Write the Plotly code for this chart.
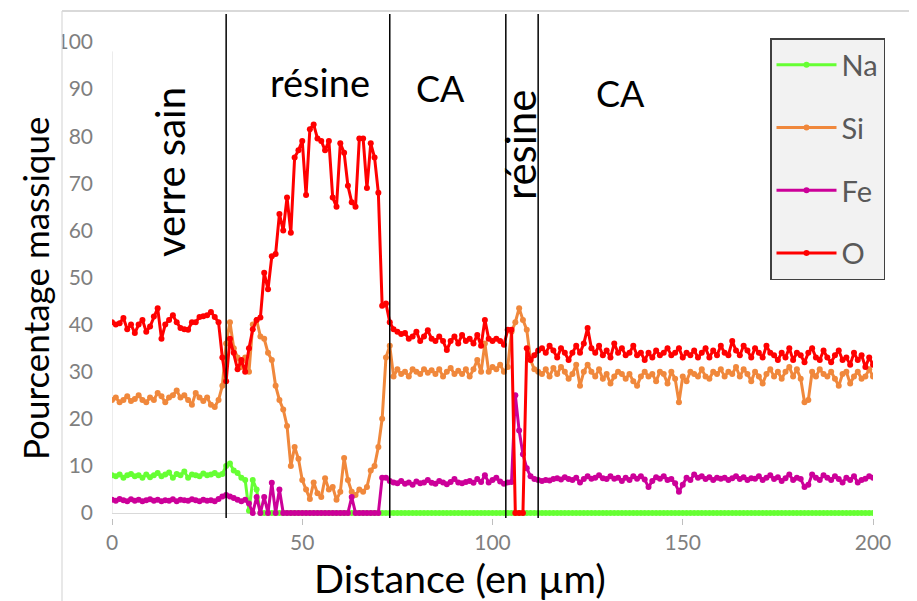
import plotly.graph_objects as go

# ---------------- data (distance in µm, mass percentage) ----------------
distance = list(range(0, 201))

Na = ([8, 7.8, 8.2, 7.5, 8, 8.3, 7.8, 8, 7.5, 8.2,
       7.6, 8, 8.5, 7.8, 8.2, 8.6, 7.5, 8.3, 8, 8.8,
       7.5, 8.2, 8, 7.8, 8.4, 8, 8.2, 8.5, 8, 8.3,
       10, 10.5, 9, 8.5, 7.5, 7, 0.5, 7, 5, 0]
      + [0] * 161)

Si = [24, 24.5, 23.5, 24, 24.8, 23.8, 24.2, 25, 24, 23.5,
      24.5, 24, 25.5, 24.8, 23.5, 24.5, 25, 26, 24.5, 25,
      24, 23, 25.5, 24.5, 23.8, 24.5, 23, 22.5, 24, 27,
      36, 40.5, 35, 33, 31, 33, 30, 40, 41, 37.5,
      37, 34, 32.5, 27, 24, 22, 18.5, 10, 14, 11.5,
      7, 5, 3, 6.5, 4.2, 3.4, 7.4, 5, 5.5, 2.8,
      4.5, 11.7, 7, 4.5, 3.8, 5, 4.5, 5.5, 9, 10,
      14, 20, 33, 35.5, 29, 30.5, 29.5, 30, 29, 30.5,
      30, 29.5, 30.5, 29.8, 30.3, 29.5, 30.5, 29, 30, 30.8,
      29.5, 30.2, 29.5, 30.5, 29, 30.5, 32.5, 30, 36, 30,
      31, 30.5, 31.5, 30, 31, 38.5, 40.5, 43.5, 41, 38.9,
      32.5, 30.5, 30, 29.5, 30.5, 29, 30.8, 29.5, 31, 30,
      28.5, 29.5, 31.5, 27, 30, 31.5, 30, 29, 30.5, 28.5,
      29.5, 27.5, 29, 30, 29.5, 28.5, 29.5, 28, 27, 29,
      30, 29, 29.5, 28, 30, 29.5, 27.5, 30, 28.5, 23.5,
      29, 28, 30, 29.5, 29, 30.5, 29, 28.5, 30, 29.5,
      30.5, 29, 30, 29.5, 31, 29, 30.5, 29.5, 28, 30,
      29, 27.5, 29.5, 30.5, 29, 30, 28.5, 30, 31, 29,
      30.5, 28.5, 23.5, 24, 30, 29, 30.5, 29.5, 29, 30,
      28.5, 27, 29.5, 30, 27.5, 29, 30, 28.5, 29, 30.5,
      29]

Fe = [2.8, 2.6, 3, 2.7, 2.5, 2.9, 2.6, 2.8, 2.5, 2.7,
      2.9, 2.6, 2.8, 2.5, 2.7, 2.6, 2.9, 2.5, 2.8, 2.7,
      2.6, 2.9, 2.7, 2.5, 2.8, 2.6, 2.7, 2.5, 3, 3.5,
      3.8, 3.5, 3.2, 2.8, 2.5, 2.8, 2, 0, 3.4, 0,
      3.4, 0, 6.4, 0, 5, 0, 0, 0, 0, 0,
      0, 0, 0, 0, 0, 0, 0, 0, 0, 0,
      0, 0, 0, 3.4, 0, 0, 0, 0, 0, 0,
      0, 7.5, 7.5, 6.8, 6.5, 6.3, 6.8, 6.2, 6.5, 6,
      6.7, 6.3, 6.5, 7, 6.4, 6.2, 6.8, 6.5, 6.1, 6.6,
      7.2, 6.5, 6.3, 6.6, 6.8, 6.4, 7.2, 6.6, 8, 6.5,
      7, 7.5, 6.7, 6.2, 6.5, 6.6, 25, 17.5, 12.5, 9.5,
      7.8, 7.2, 7, 6.8, 7, 6.9, 7.2, 7.4, 7.1, 7.6,
      7.2, 7, 7.5, 6.5, 7.2, 7.8, 7.3, 7.5, 8, 7.4,
      7.2, 7.8, 7.3, 7.5, 6.8, 7.5, 7, 7.8, 7.3, 7.8,
      7.1, 5.5, 6.8, 7.6, 7.3, 7.8, 7, 7.2, 6.3, 4.5,
      6, 7.5, 7, 8.2, 7.5, 7.8, 7.2, 7.6, 7, 7.5,
      7.3, 7.5, 7, 7.4, 7.8, 7.2, 7.6, 7, 7.4, 7.3,
      7.8, 7, 7.5, 8, 7.2, 7.6, 6.8, 7.4, 8.2, 7,
      7.5, 7.2, 5.5, 6, 8.2, 7.5, 7, 8, 7.5, 7,
      7.8, 7.2, 6.5, 7.5, 7, 7.8, 6.5, 7, 7.3, 7.8,
      7.5]

O = [40.5, 40, 40.3, 41.4, 39, 40, 38.2, 40, 41, 38.5,
     39.6, 41.7, 43.5, 37, 40, 41, 42, 40.5, 39.3, 39,
     38.9, 40.5, 40.5, 41.6, 41.8, 42, 42.7, 41.6, 40.5, 33,
     28, 37, 34, 30.5, 32.5, 30, 35, 39, 41, 41.5,
     51, 47.5, 54.5, 55, 63.5, 60, 67, 59.5, 75.5, 77,
     79, 67.5, 81.5, 82.5, 79.5, 79, 77, 79, 67, 65,
     78.5, 76.5, 69.5, 66, 65, 79.5, 79.5, 69, 78.5, 75.5,
     68, 44, 44.5, 40.5, 39, 38.5, 38, 38.2, 37, 37.5,
     38.5, 36.5, 37.5, 38.8, 37, 36.5, 37.5, 36.5, 34.6, 36.5,
     37.5, 36, 37.8, 36.5, 37, 36, 37.8, 35.5, 41, 37,
     36.5, 37, 36.5, 35.7, 38.9, 38.9, 0, 0, 0, 35,
     32.5, 33.5, 34.5, 35, 34, 35.5, 34.5, 33, 35, 34,
     32.5, 34, 35.5, 34, 36, 39.3, 35, 34, 35.5, 33.5,
     34.5, 33, 36, 34, 35, 33.5, 34, 35.5, 33.5, 34,
     32.5, 34, 33, 34.5, 33.5, 34, 35, 33.5, 34, 35,
     33, 34, 33.5, 34.5, 33, 34, 35, 33, 34.5, 33.5,
     35.5, 34, 33.5, 36.5, 34.5, 33.5, 35.5, 34.5, 33, 35,
     34, 33, 35.5, 34, 33.5, 32.5, 34, 33, 35, 32.5,
     34, 33.5, 32, 34, 35, 33, 32.5, 34.5, 33, 32,
     33.5, 34.5, 32.5, 33, 31.5, 34, 32.5, 33.5, 31, 33,
     31.5]

series_names = ["Na", "Si", "Fe", "O"]
series_values = [Na, Si, Fe, O]
series_colors = ["#66ff33", "#f0883c", "#cc0099", "#ff0000"]

boundaries = [30, 73, 103.5, 112]          # zone limits (µm)
zone_labels = ["verre sain", "résine", "CA", "résine", "CA"]

x_ticks = [0, 50, 100, 150, 200]
y_ticks = [0, 10, 20, 30, 40, 50, 60, 70, 80, 90, 100]

# ---------------- layout helpers ----------------
# The page body has an 8 px margin; coordinates below are page pixels.
OFF = 8
VW, VH = 917, 601
W, H = VW - OFF, VH - OFF
L, R, T, B = 112, 873, 14, 518   # plot area in page pixels


def px(p):
    return (p - L) / (R - L)


def py(p):
    return (B - p) / (B - T)


FONT = "Lato, 'Open Sans', sans-serif"

fig = go.Figure()
for i, (name, vals, col) in enumerate(zip(series_names, series_values, series_colors)):
    fig.add_trace(go.Scatter(
        x=distance, y=vals, name=name, mode="lines+markers",
        line=dict(color=col, width=3),
        marker=dict(color=col, size=6),
        legendgroup="g%d" % i,
    ))

shapes = []
for b in boundaries:
    shapes.append(dict(type="line", xref="x", yref="y", x0=b, x1=b,
                       y0=-1.06, y1=105.95, line=dict(color="black", width=1.5),
                       layer="above"))
# light y-axis line
shapes.append(dict(type="line", xref="x", yref="y", x0=0, x1=0, y0=0, y1=98,
                   line=dict(color="#d9d9d9", width=1), layer="below"))
# crop mask and frame lines of the original picture
shapes.append(dict(type="rect", xref="paper", yref="paper", x0=px(-5), x1=px(62),
                   y0=py(VH + 5), y1=py(T), fillcolor="white", line=dict(width=0),
                   layer="above"))
shapes.append(dict(type="line", xref="paper", yref="paper", x0=px(62), x1=px(62),
                   y0=py(T - 3), y1=py(VH), line=dict(color="#d9d9d9", width=1.2),
                   layer="above"))
shapes.append(dict(type="line", xref="paper", yref="paper", x0=px(62), x1=px(VW + 5),
                   y0=py(T - 3), y1=py(T - 3), line=dict(color="#d9d9d9", width=2),
                   layer="above"))

label_pos = [(170, 172, -90, 40), (320, 82, 0, 38), (440, 88, 0, 36),
             (520, 145, -90, 42), (620, 93, 0, 36)]
annotations = []
for txt, (ax_, ay_, ang, fs) in zip(zone_labels, label_pos):
    annotations.append(dict(text=txt, xref="paper", yref="paper", x=px(ax_), y=py(ay_),
                            xanchor="center", yanchor="middle", showarrow=False,
                            textangle=ang, font=dict(family=FONT, size=fs, color="black")))
annotations.append(dict(text="Pourcentage massique", xref="paper", yref="paper",
                        x=px(35), y=py(289), xanchor="center", yanchor="middle",
                        showarrow=False, textangle=-90,
                        font=dict(family=FONT, size=35, color="black")))
annotations.append(dict(text="Distance (en µm)", xref="paper", yref="paper",
                        x=px(460), y=py(577), xanchor="center", yanchor="middle",
                        showarrow=False, font=dict(family=FONT, size=39.5, color="black")))

fig.update_layout(
    width=W, height=H,
    margin=dict(l=L - OFF, r=VW - R, t=T - OFF, b=VH - B, pad=0),
    paper_bgcolor="white", plot_bgcolor="white",
    showlegend=True,
    legend=dict(x=px(770), y=py(38), xanchor="left", yanchor="top",
                bgcolor="#f2f2f2", bordercolor="#404040", borderwidth=1.5,
                font=dict(family=FONT, size=29, color="#595959"),
                tracegroupgap=22, itemwidth=60),
    shapes=shapes,
    annotations=annotations,
    xaxis=dict(range=[0, 200], tickvals=x_ticks, showgrid=False, zeroline=False,
               showline=False, ticks="outside", ticklen=6, tickcolor="#bfbfbf",
               tickfont=dict(family=FONT, size=21, color="#7f7f7f")),
    yaxis=dict(range=[-1.06, 105.95], tickvals=y_ticks, showgrid=False,
               zeroline=True, zerolinecolor="#d9d9d9", zerolinewidth=1.2,
               showline=False, ticks="", ticklabelstandoff=18,
               tickfont=dict(family=FONT, size=21, color="#7f7f7f")),
)

fig.write_html("out.html")
